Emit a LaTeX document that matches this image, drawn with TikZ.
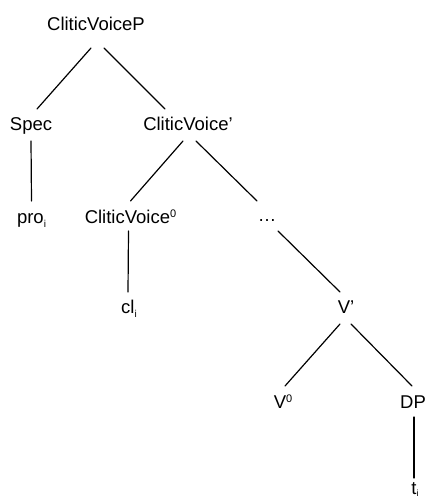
\documentclass[tikz,border=0pt]{standalone}
\usepackage{fontspec}
\setmainfont{Liberation Sans}
\newcommand\mysupz[1]{\raisebox{6pt}{\fontsize{11}{11}\selectfont #1}}
\newcommand\mysubi[1]{\raisebox{-4pt}{\fontsize{10}{10}\selectfont #1}}
\begin{document}
\begin{tikzpicture}[x=1pt,y=-1pt,
  lab/.style={anchor=base,inner sep=0pt,font=\fontsize{18.5}{22}\selectfont},
  edge/.style={line width=1.2pt,line cap=round}]
\useasboundingbox (0,0) rectangle (427,500);
\node[lab] (cvp) at (96,31) {CliticVoiceP};
\node[lab] (spec) at (31,131) {Spec};
\node[lab] (cvbar) at (188,131) {CliticVoice’};
\node[lab] (pro) at (31.5,223) {pro\mysubi{i}};
\node[lab] (cv0) at (130.5,223) {CliticVoice\mysupz{0}};
\node[lab] (dots) at (267,221) {…};
\node[lab] (cl) at (129,313) {cl\mysubi{i}};
\node[lab] (vbar) at (346,313) {V’};
\node[lab] (v0) at (283,408) {V\mysupz{0}};
\node[lab] (dp) at (413,408) {DP};
\node[lab] (t) at (415,494) {t\raisebox{-2pt}{\fontsize{9}{9}\selectfont i}};
\draw[edge] ([shift={(-5,17)}]cvp.base) -- ([shift={(6,-22)}]spec.base);
\draw[edge] ([shift={(8,17)}]cvp.base) -- ([shift={(-23,-22)}]cvbar.base);
\draw[edge] ([shift={(0,10)}]spec.base) -- ([shift={(0,-22)}]pro.base);
\draw[edge] ([shift={(-5,10)}]cvbar.base) -- ([shift={(0,-22)}]cv0.base);
\draw[edge] ([shift={(8,10)}]cvbar.base) -- ([shift={(-10,-20)}]dots.base);
\draw[edge] ([shift={(-2,8)}]cv0.base) -- ([shift={(-1,-21)}]cl.base);
\draw[edge] ([shift={(11,10)}]dots.base) -- ([shift={(-6,-21)}]vbar.base);
\draw[edge] ([shift={(-6,11)}]vbar.base) -- ([shift={(2,-22)}]v0.base);
\draw[edge] ([shift={(5,11)}]vbar.base) -- ([shift={(-1,-22)}]dp.base);
\draw[edge] ([shift={(1,9)}]dp.base) -- ([shift={(-1,-16)}]t.base);
\end{tikzpicture}
\end{document}
